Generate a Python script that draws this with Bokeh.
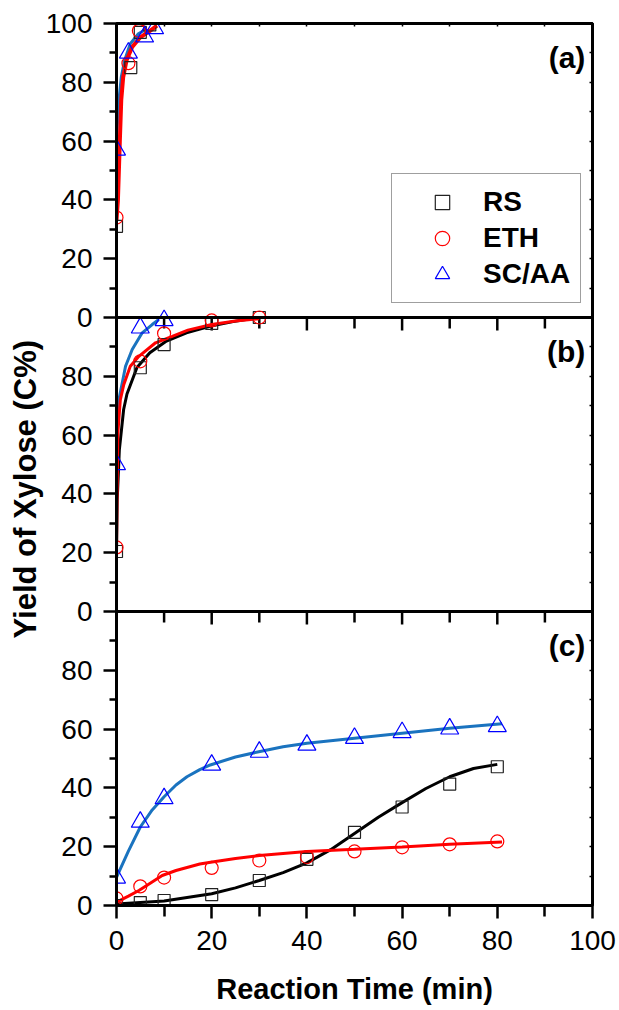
import numpy as np
from bokeh.plotting import figure
from bokeh.models import (Range1d, LinearAxis, FixedTicker, Span, Label, Title,
                          Legend, LegendItem)
from bokeh.embed import file_html
from bokeh.resources import INLINE

# ---------------- data ----------------
series_names = ["RS", "ETH", "SC/AA"]

# panel (a)
time_a_rs = [0, 3, 5, 7]
yield_a_rs = [31, 85, 97, 99.5]
time_a_eth = [0, 2.5, 4.7, 7]
yield_a_eth = [34, 86.5, 97.5, 100]
time_a_sc = [0, 2.5, 5.9, 8]
yield_a_sc = [57, 90, 95.5, 98.3]
fit_a_eth_t = [0, 0.3, 0.7, 1, 1.4, 2.1, 3.3, 5, 7.1, 8.5]
fit_a_eth_y = [33, 40, 60, 74, 81.7, 87.4, 92, 95.3, 97.6, 99.3]
fit_a_sc_t = [0, 0.15, 0.5, 1, 1.7, 2.9, 4.6, 6.4]
fit_a_sc_y = [58, 64.7, 73.8, 81.7, 87.4, 93.1, 96.5, 98.2]

# panel (b)
time_b = [0, 5, 10, 20, 30]
yield_b_rs = [20.4, 82.9, 90.8, 98, 100]
yield_b_eth = [21.8, 85.1, 94.6, 99, 100]
time_b_sc = [0, 5, 10]
yield_b_sc = [50, 96.5, 99]
fit_b_rs_t = [0, 0.15, 0.6, 1.5, 2.2, 4.3, 7, 10.5, 14.7, 19.6, 24.5, 27.5]
fit_b_rs_y = [20, 38, 55, 68.7, 74, 83, 88, 92, 94.8, 97, 98.6, 99.4]
fit_b_eth_t = [0, 0.1, 0.3, 0.8, 1.5, 2.9, 4.7, 8.2, 11.7, 15, 20, 25, 30]
fit_b_eth_y = [21, 38, 61, 72, 77, 83.4, 86.8, 91.4, 93.6, 95.7, 97.6, 98.8, 99.6]
fit_b_sc_t = [0, 0.2, 0.5, 1.9, 3.3, 5.4, 7.5, 8.9]
fit_b_sc_y = [50, 62, 72, 83.4, 89.1, 94.8, 97.6, 99.3]

# panel (c)
time_c = [0, 5, 10, 20, 30, 40, 50, 60, 70, 80]
yield_c_rs = [0, 1, 1.7, 3.7, 8.5, 15.7, 24.9, 33.5, 41.3, 47.2]
yield_c_eth = [2.4, 6.5, 9.5, 12.8, 15.3, 16.5, 18.4, 19.8, 20.8, 21.8]
yield_c_sc = [9.4, 28.4, 36.4, 47.8, 52.2, 54.6, 56.9, 58.9, 60.1, 60.9]
fit_c_rs_t = [0, 10, 20, 25, 30, 35, 40, 45, 50, 55, 60, 65, 70, 75, 80]
fit_c_rs_y = [0.5, 1.5, 4, 6, 8.5, 11.2, 14.5, 19, 24.5, 30, 35, 39.8, 43.8, 46.6, 48]
fit_c_eth_t = [0, 2.5, 4.7, 7, 9.6, 12.5, 15.2, 17.5, 20.1, 25, 30, 40, 50, 60, 70, 81]
fit_c_eth_y = [1.1, 3.2, 5.1, 7.5, 10.2, 11.9, 13.1, 14.1, 14.8, 16, 17, 18.4, 19.1, 19.9, 20.8, 21.6]
fit_c_sc_t = [0, 2.5, 5, 7.5, 10, 12.5, 14.8, 17.5, 19.7, 25, 29.9, 35, 40, 50, 60, 70, 81]
fit_c_sc_y = [9.6, 18.5, 26.7, 32.5, 37, 41, 43.8, 46.2, 47.8, 50.5, 52.3, 54, 55.2, 56.9, 58.6, 60.3, 61.8]

x_major_ticks = [0, 20, 40, 60, 80, 100]
x_minor_ticks = [10, 30, 50, 70, 90]
panel_y_labels = ["0", "20", "40", "60", "80", "100"]
panel_tags = ["(a)", "(b)", "(c)"]

# ---------------- styles ----------------
FONT = "Liberation Sans"
C_RS, C_ETH, C_SC_LINE, C_SC_MK = "#000000", "#ff0000", "#1a73bf", "#0000ff"

p = figure(frame_width=476, frame_height=882,
           min_border_left=116, min_border_right=24,
           min_border_top=23, min_border_bottom=103,
           x_range=Range1d(0, 100), y_range=Range1d(0, 300),
           x_axis_location=None, y_axis_location=None,
           output_backend="svg", toolbar_location=None)
p.grid.visible = False
p.background_fill_color = "white"
p.border_fill_color = "white"
p.outline_line_color = "black"
p.outline_line_width = 3

# panels: (a) on top, (b) middle, (c) bottom (default range)
p.extra_y_ranges = {"a": Range1d(-200, 100), "b": Range1d(-100, 200)}

# left axis: one axis through the three stacked panels
left_ticks = []
left_over = {}
for k in range(3):
    base = 100 * k
    for j, lab in enumerate(panel_y_labels):
        t = base + 20 * j
        if t not in left_over or lab == "0":
            left_over[t] = lab
        if t not in left_ticks:
            left_ticks.append(t)
left_over[300] = "100"
left_minor = [t + 10 for t in left_ticks if t < 300]

yax = LinearAxis(ticker=FixedTicker(ticks=left_ticks, minor_ticks=left_minor),
                 major_label_overrides=left_over)
yax.axis_line_width = 3
yax.major_tick_line_width = 2.5
yax.minor_tick_line_width = 2.5
yax.major_tick_out = 13
yax.major_tick_in = 0
yax.minor_tick_out = 7
yax.minor_tick_in = 0
yax.major_label_standoff = 11
yax.major_label_text_font = FONT
yax.major_label_text_font_size = "28px"
yax.major_label_text_color = "black"
p.add_layout(yax, "left")

# y title (left of the axis, starting a bit above the bottom like the reference)
p.add_layout(Title(text="Yield of Xylose (C%)", align="left", offset=267,
                   text_font=FONT, text_font_size="31px", text_font_style="bold",
                   text_color="black", standoff=0), "left")

xax = LinearAxis(ticker=FixedTicker(ticks=x_major_ticks, minor_ticks=x_minor_ticks),
                 axis_label="Reaction Time (min)")
xax.axis_line_width = 3
xax.major_tick_line_width = 2.5
xax.minor_tick_line_width = 2.5
xax.major_tick_out = 13
xax.major_tick_in = 0
xax.minor_tick_out = 11
xax.minor_tick_in = 0
xax.major_label_standoff = 12
xax.major_label_text_font = FONT
xax.major_label_text_font_size = "28px"
xax.major_label_text_color = "black"
xax.axis_label_text_font = FONT
xax.axis_label_text_font_size = "29px"
xax.axis_label_text_font_style = "bold"
xax.axis_label_text_color = "black"
xax.axis_label_standoff = 20
p.add_layout(xax, "below")

all_x = sorted(x_major_ticks + x_minor_ticks)
tax = LinearAxis(ticker=FixedTicker(ticks=all_x, minor_ticks=[]),
                 major_label_overrides={t: "" for t in all_x})
tax.axis_line_width = 3
tax.major_tick_line_width = 1.5
tax.major_tick_in = 3
tax.major_tick_out = 0
p.add_layout(tax, "above")

right_ticks = sorted(left_ticks + left_minor)
rax = LinearAxis(ticker=FixedTicker(ticks=right_ticks, minor_ticks=[]),
                 major_label_overrides={t: "" for t in right_ticks})
rax.axis_line_width = 3
rax.major_tick_line_width = 1.5
rax.major_tick_in = 3
rax.major_tick_out = 0
p.add_layout(rax, "right")

# panel separators with their downward ticks
for rng in ["a", "b"]:
    p.ray(x=x_major_ticks, y=[0] * len(x_major_ticks), length=13, angle=-np.pi / 2,
          length_units="screen", line_width=2.5, line_color="black", y_range_name=rng)
    p.ray(x=x_minor_ticks, y=[0] * len(x_minor_ticks), length=11, angle=-np.pi / 2,
          length_units="screen", line_width=2.5, line_color="black", y_range_name=rng)
p.add_layout(Span(location=0, dimension="width", line_color="black", line_width=3,
                  y_range_name="a"))
p.add_layout(Span(location=0, dimension="width", line_color="black", line_width=3,
                  y_range_name="b"))

LW = 3
# ---- panel (a)
p.line(fit_a_sc_t, fit_a_sc_y, line_color=C_SC_LINE, line_width=LW, y_range_name="a")
p.line(fit_a_eth_t, fit_a_eth_y, line_color=C_ETH, line_width=4, y_range_name="a")
p.scatter(time_a_rs, yield_a_rs, marker="square", size=12, fill_color=None,
          line_color="#222222", line_width=1.2, y_range_name="a")
p.scatter(time_a_eth, yield_a_eth, marker="circle", size=13, fill_color=None,
          line_color=C_ETH, line_width=1.2, y_range_name="a")
p.scatter(time_a_sc, yield_a_sc, marker="triangle", size=18, fill_color=None,
          line_color=C_SC_MK, line_width=1.2, y_range_name="a")

# ---- panel (b)
p.line(fit_b_sc_t, fit_b_sc_y, line_color=C_SC_LINE, line_width=LW, y_range_name="b")
p.line(fit_b_rs_t, fit_b_rs_y, line_color=C_RS, line_width=LW, y_range_name="b")
p.line(fit_b_eth_t, fit_b_eth_y, line_color=C_ETH, line_width=LW, y_range_name="b")
p.scatter(time_b, yield_b_rs, marker="square", size=12, fill_color=None,
          line_color="#222222", line_width=1.2, y_range_name="b")
p.scatter(time_b, yield_b_eth, marker="circle", size=13, fill_color=None,
          line_color=C_ETH, line_width=1.2, y_range_name="b")
p.scatter(time_b_sc, yield_b_sc, marker="triangle", size=18, fill_color=None,
          line_color=C_SC_MK, line_width=1.2, y_range_name="b")

# ---- panel (c)
p.line(fit_c_sc_t, fit_c_sc_y, line_color=C_SC_LINE, line_width=LW)
p.line(fit_c_rs_t, fit_c_rs_y, line_color=C_RS, line_width=LW)
p.line(fit_c_eth_t, fit_c_eth_y, line_color=C_ETH, line_width=LW)
r_rs = p.scatter(time_c, yield_c_rs, marker="square", size=12, fill_color=None,
                 line_color="#222222", line_width=1.2)
r_eth = p.scatter(time_c, yield_c_eth, marker="circle", size=13, fill_color=None,
                  line_color=C_ETH, line_width=1.2)
r_sc = p.scatter(time_c, yield_c_sc, marker="triangle", size=18, fill_color=None,
                 line_color=C_SC_MK, line_width=1.2)

# panel tags
for tag, rng in zip(panel_tags, ["a", "b", "default"]):
    p.add_layout(Label(x=98.5, y=88.5, text=tag, y_range_name=rng,
                       text_align="right", text_baseline="middle",
                       text_font=FONT, text_font_size="30px",
                       text_font_style="bold", text_color="black"))

legend = Legend(items=[LegendItem(label=series_names[0], renderers=[r_rs]),
                       LegendItem(label=series_names[1], renderers=[r_eth]),
                       LegendItem(label=series_names[2], renderers=[r_sc])],
                location=(275, 602))
legend.label_text_font = FONT
legend.label_text_font_size = "28px"
legend.label_text_font_style = "bold"
legend.label_text_color = "black"
legend.glyph_width = 80
legend.glyph_height = 36
legend.label_height = 36
legend.label_standoff = 1
legend.spacing = 0
legend.padding = 10
legend.margin = 0
legend.border_line_color = "#404040"
legend.border_line_width = 1.5
legend.background_fill_color = "white"
legend.background_fill_alpha = 1
p.add_layout(legend)

open("out.html", "w").write(file_html(p, INLINE))
